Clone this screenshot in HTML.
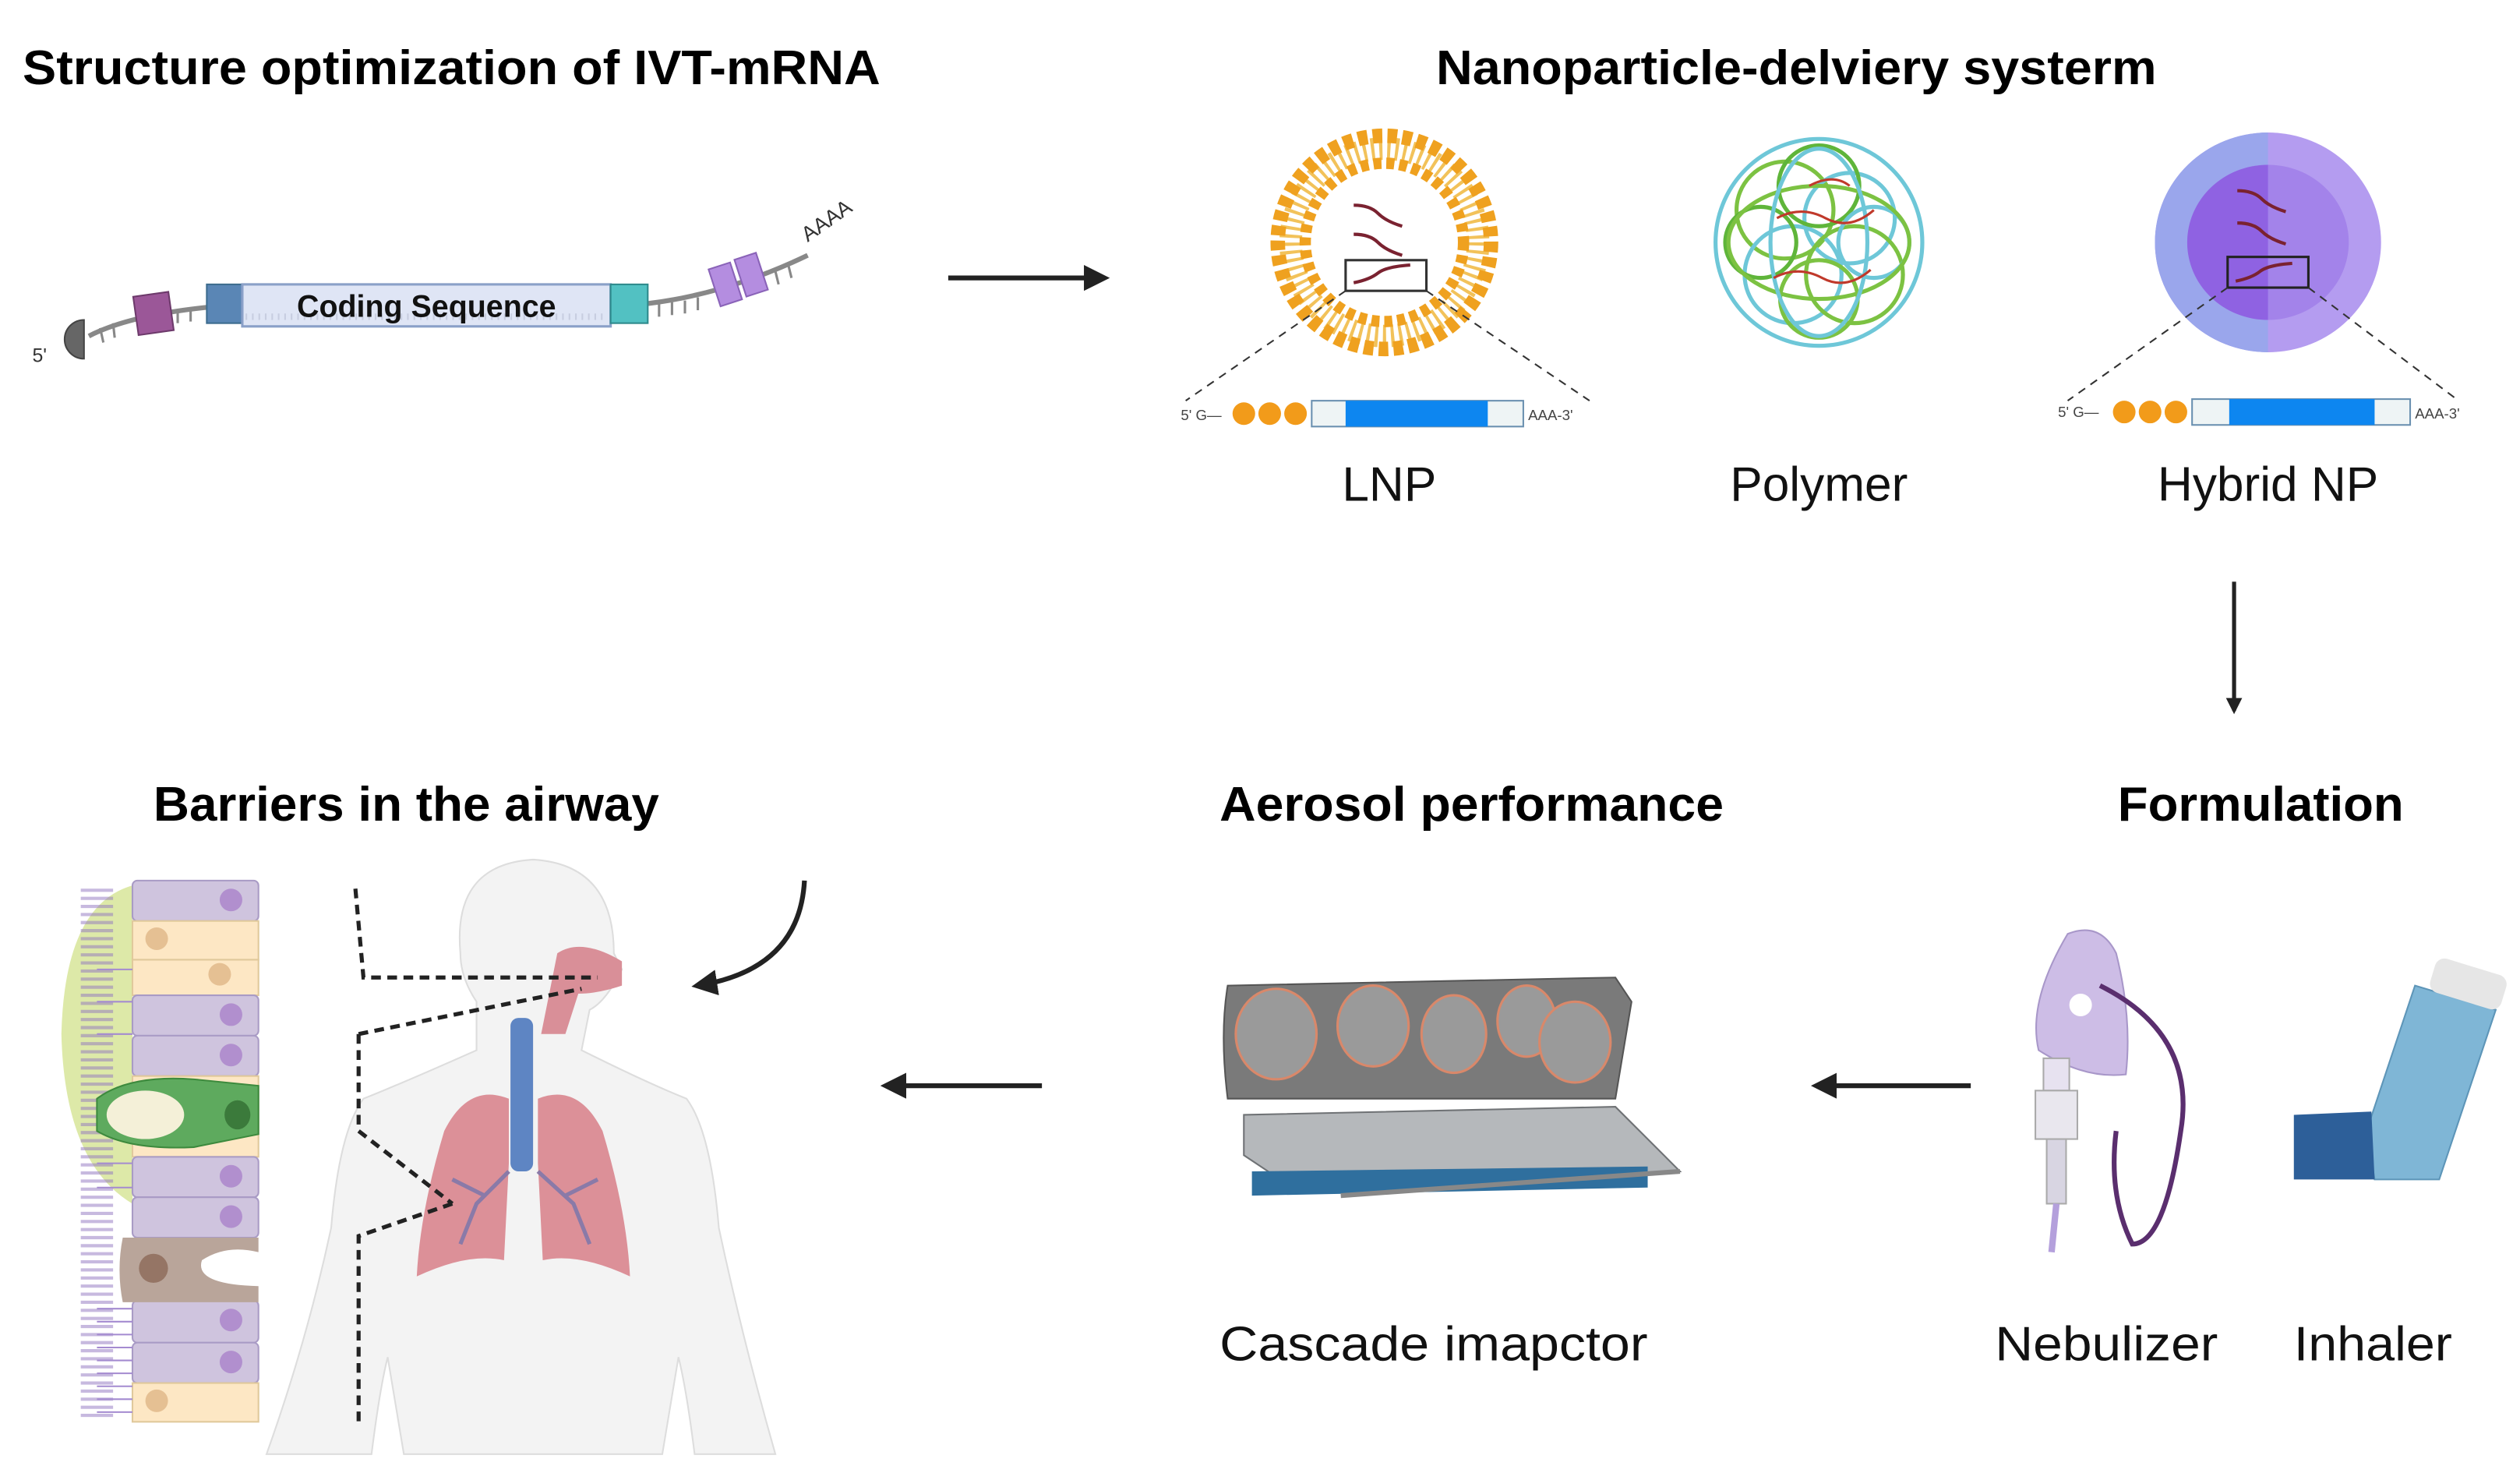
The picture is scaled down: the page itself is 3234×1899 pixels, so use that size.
<!DOCTYPE html>
<html><head><meta charset="utf-8"><style>
html,body{margin:0;padding:0;background:#fff;}
svg{display:block;}
text{font-family:"Liberation Sans",sans-serif;}
</style></head><body>
<svg width="3234" height="1899" viewBox="0 0 1560 916" xmlns="http://www.w3.org/2000/svg">
<defs>
<marker id="ah" markerWidth="10" markerHeight="10" refX="8" refY="5" orient="auto" markerUnits="userSpaceOnUse"><path d="M0,0 L10,5 L0,10 Z" fill="#222"/></marker>
<marker id="ah2" markerWidth="16" markerHeight="16" refX="12" refY="8" orient="auto" markerUnits="userSpaceOnUse"><path d="M0,0 L16,8 L0,16 Z" fill="#222"/></marker>
</defs>
<rect width="1560" height="916" fill="#fff"/>
<!-- Titles -->
<text x="14" y="52" font-size="30" font-weight="bold" textLength="531" lengthAdjust="spacingAndGlyphs">Structure optimization of IVT-mRNA</text>
<text x="889" y="52" font-size="30" font-weight="bold" textLength="446" lengthAdjust="spacingAndGlyphs">Nanoparticle-delviery systerm</text>
<text x="95" y="508" font-size="30" font-weight="bold" textLength="313" lengthAdjust="spacingAndGlyphs">Barriers in the airway</text>
<text x="755" y="508" font-size="30" font-weight="bold" textLength="312" lengthAdjust="spacingAndGlyphs">Aerosol performance</text>
<text x="1311" y="508" font-size="30" font-weight="bold" textLength="177" lengthAdjust="spacingAndGlyphs">Formulation</text>

<!-- mRNA -->
<path d="M55,208 Q80,195 130,190 L400,188 Q450,182 500,158" fill="none" stroke="#888" stroke-width="3"/>
<g stroke="#888" stroke-width="1.5">
<line x1="62" y1="203" x2="64" y2="212"/><line x1="70" y1="200" x2="71" y2="209"/><line x1="110" y1="192" x2="110" y2="200"/><line x1="118" y1="191" x2="118" y2="199"/>
<line x1="408" y1="188" x2="408" y2="196"/><line x1="416" y1="187" x2="416" y2="195"/><line x1="424" y1="186" x2="424" y2="194"/><line x1="432" y1="184" x2="432" y2="192"/><line x1="480" y1="168" x2="482" y2="176"/><line x1="488" y1="164" x2="490" y2="172"/>
</g>
<path d="M52,198 A12,12 0 0 0 52,222 Z" fill="#666" stroke="#444"/>
<text x="20" y="224" font-size="12" fill="#333">5'</text>
<rect x="84" y="182" width="22" height="24" fill="#9b5798" stroke="#6d3a6b" transform="rotate(-8 95 194)"/>
<rect x="128" y="176" width="22" height="24" fill="#5a86b5" stroke="#3d6c8e"/>
<rect x="150" y="176" width="228" height="26" fill="#dfe5f5" stroke="#8aa0c8" stroke-width="1.5"/>
<line x1="152" y1="196" x2="376" y2="196" stroke="#c7cde0" stroke-width="4" stroke-dasharray="1 3"/>
<text x="264" y="196" font-size="19" font-weight="bold" text-anchor="middle" fill="#111">Coding Sequence</text>
<rect x="378" y="176" width="23" height="24" fill="#52c1c2" stroke="#2e8a8c"/>
<rect x="442" y="164" width="14" height="24" fill="#b48de0" stroke="#8a63b8" transform="rotate(-18 449 176)"/>
<rect x="458" y="158" width="14" height="24" fill="#b48de0" stroke="#8a63b8" transform="rotate(-18 465 170)"/>
<text x="500" y="150" font-size="13" fill="#333" transform="rotate(-35 500 150)">AAAA</text>

<line x1="587" y1="172" x2="683" y2="172" stroke="#222" stroke-width="3" marker-end="url(#ah2)"/>

<!-- LNP -->
<g>
<circle cx="857" cy="150" r="58" fill="none" stroke="#f2c25a" stroke-width="14" stroke-dasharray="2 3"/>
<circle cx="857" cy="150" r="66" fill="none" stroke="#efa11f" stroke-width="9" stroke-dasharray="6 3.2"/>
<circle cx="857" cy="150" r="49" fill="none" stroke="#efa11f" stroke-width="7" stroke-dasharray="5 3"/>
<path d="M838,127 q10,0 15,5 t15,8" fill="none" stroke="#7a2230" stroke-width="2"/>
<path d="M838,145 q10,0 15,5 t15,8" fill="none" stroke="#7a2230" stroke-width="2"/>
<rect x="833" y="161" width="50" height="19" fill="#fff" fill-opacity="0.5" stroke="#333" stroke-width="1.5"/>
<path d="M838,175 q10,-2 15,-6 t20,-5" fill="none" stroke="#7a2230" stroke-width="2"/>
<line x1="833" y1="180" x2="734" y2="248" stroke="#333" stroke-dasharray="5 4"/>
<line x1="883" y1="180" x2="984" y2="248" stroke="#333" stroke-dasharray="5 4"/>
<text x="731" y="260" font-size="9" fill="#444">5' G—</text>
<circle cx="770" cy="256" r="7" fill="#f29b1a"/><circle cx="786" cy="256" r="7" fill="#f29b1a"/><circle cx="802" cy="256" r="7" fill="#f29b1a"/>
<rect x="812" y="248" width="131" height="16" fill="#eef4f5" stroke="#6a90b0"/>
<rect x="833" y="248" width="88" height="16" fill="#0d86f0"/>
<text x="946" y="260" font-size="9" fill="#444">AAA-3'</text>
</g>
<text x="860" y="310" font-size="30" text-anchor="middle" fill="#111">LNP</text>

<!-- Polymer -->
<g fill="none" stroke-width="2.5">
<circle cx="1126" cy="150" r="64" stroke="#6ec7d8"/>
<circle cx="1105" cy="130" r="30" stroke="#7cc242"/>
<circle cx="1145" cy="135" r="28" stroke="#6ec7d8"/>
<circle cx="1110" cy="170" r="30" stroke="#6ec7d8"/>
<circle cx="1148" cy="170" r="30" stroke="#7cc242"/>
<circle cx="1126" cy="115" r="25" stroke="#5fb53a"/>
<circle cx="1126" cy="185" r="24" stroke="#7cc242"/>
<circle cx="1090" cy="150" r="22" stroke="#5fb53a"/>
<circle cx="1160" cy="150" r="22" stroke="#6ec7d8"/>
<ellipse cx="1126" cy="150" rx="56" ry="35" stroke="#7cc242"/>
<ellipse cx="1126" cy="150" rx="30" ry="58" stroke="#6ec7d8"/>
<path d="M1100,135 q15,-8 30,0 t30,-5" stroke="#c0392b" stroke-width="1.5"/>
<path d="M1098,172 q15,-8 30,0 t30,-5" stroke="#c0392b" stroke-width="1.5"/>
<path d="M1120,115 q15,-8 25,0" stroke="#c0392b" stroke-width="1.5"/>
</g>
<text x="1126" y="310" font-size="30" text-anchor="middle" fill="#111">Polymer</text>

<!-- Hybrid NP -->
<g>
<ellipse cx="1404" cy="150" rx="70" ry="68" fill="#b49cf0"/>
<path d="M1404,82 A70,68 0 0 0 1404,218 Z" fill="#9aa6ec"/>
<ellipse cx="1404" cy="150" rx="50" ry="48" fill="#a383ea"/>
<path d="M1404,102 A50,48 0 0 0 1404,198 Z" fill="#8f62e2"/>
<path d="M1385,118 q10,0 15,5 t15,8" fill="none" stroke="#7a2230" stroke-width="2"/>
<path d="M1385,138 q10,0 15,5 t15,8" fill="none" stroke="#7a2230" stroke-width="2"/>
<rect x="1379" y="159" width="50" height="19" fill="none" stroke="#222" stroke-width="1.5"/>
<path d="M1384,174 q10,-2 15,-6 t20,-5" fill="none" stroke="#7a2230" stroke-width="2"/>
<line x1="1379" y1="178" x2="1280" y2="248" stroke="#333" stroke-dasharray="5 4"/>
<line x1="1429" y1="178" x2="1522" y2="248" stroke="#333" stroke-dasharray="5 4"/>
<text x="1274" y="258" font-size="9" fill="#444">5' G—</text>
<circle cx="1315" cy="255" r="7" fill="#f29b1a"/><circle cx="1331" cy="255" r="7" fill="#f29b1a"/><circle cx="1347" cy="255" r="7" fill="#f29b1a"/>
<rect x="1357" y="247" width="135" height="16" fill="#eef4f5" stroke="#6a90b0"/>
<rect x="1380" y="247" width="90" height="16" fill="#0d86f0"/>
<text x="1495" y="259" font-size="9" fill="#444">AAA-3'</text>
</g>
<text x="1404" y="310" font-size="30" text-anchor="middle" fill="#111">Hybrid NP</text>

<line x1="1383" y1="360" x2="1383" y2="440" stroke="#222" stroke-width="2.5" marker-end="url(#ah)"/>
<line x1="1220" y1="672" x2="1125" y2="672" stroke="#222" stroke-width="3" marker-end="url(#ah2)"/>
<line x1="645" y1="672" x2="549" y2="672" stroke="#222" stroke-width="3" marker-end="url(#ah2)"/>
<path d="M498,545 Q495,600 432,610" fill="none" stroke="#222" stroke-width="3" marker-end="url(#ah2)"/>

<!-- Airway cells -->
<path d="M82,548 Q40,560 38,640 Q40,720 82,745 Z" fill="#dde9a8"/>
<g stroke="#8f74c0" stroke-width="1"><path d="M60,550 v330" stroke-dasharray="2 3" stroke-width="20" stroke-opacity="0.5" fill="none"/></g>
<g stroke="#a99bc5" stroke-width="1">
<rect x="82" y="545" width="78" height="25" rx="3" fill="#cfc4de"/>
<rect x="82" y="570" width="78" height="24" fill="#fde7c4" stroke="#e0c99b"/>
<rect x="82" y="594" width="78" height="22" fill="#fde7c4" stroke="#e0c99b"/>
<rect x="82" y="616" width="78" height="25" rx="3" fill="#cfc4de"/>
<rect x="82" y="641" width="78" height="25" rx="3" fill="#cfc4de"/>
<rect x="82" y="666" width="78" height="50" fill="#fde7c4" stroke="#e0c99b"/>
<rect x="82" y="716" width="78" height="25" rx="3" fill="#cfc4de"/>
<rect x="82" y="741" width="78" height="25" rx="3" fill="#cfc4de"/>
<rect x="82" y="805" width="78" height="26" rx="3" fill="#cfc4de"/>
<rect x="82" y="831" width="78" height="25" rx="3" fill="#cfc4de"/>
<rect x="82" y="856" width="78" height="24" fill="#fde7c4" stroke="#e0c99b"/>
</g>
<g fill="#b18fce"><circle cx="143" cy="557" r="7"/><circle cx="143" cy="628" r="7"/><circle cx="143" cy="653" r="7"/><circle cx="143" cy="728" r="7"/><circle cx="143" cy="753" r="7"/><circle cx="143" cy="817" r="7"/><circle cx="143" cy="843" r="7"/></g>
<g fill="#e5c093"><circle cx="97" cy="581" r="7"/><circle cx="136" cy="603" r="7"/><circle cx="97" cy="867" r="7"/></g>
<path d="M60,680 Q80,665 120,668 L160,672 L160,702 L120,710 Q80,712 60,700 Z" fill="#5eaa5e" stroke="#3d8a3d"/>
<ellipse cx="90" cy="690" rx="24" ry="15" fill="#f4f0d8"/>
<ellipse cx="147" cy="690" rx="8" ry="9" fill="#3b7a3b"/>
<path d="M76,766 L160,766 L160,775 Q140,770 125,780 Q120,795 160,796 L160,806 L76,806 Q72,786 76,766 Z" fill="#b9a59a"/>
<circle cx="95" cy="785" r="9" fill="#957565"/>
<g stroke="#a48bd0" stroke-width="1"><path d="M60,810 h22 M60,818 h22 M60,826 h22 M60,834 h22 M60,842 h22 M60,850 h22 M60,858 h22 M60,866 h22 M60,874 h22 M60,600 h22 M60,620 h22 M60,640 h22 M60,720 h22 M60,735 h22"/></g>

<!-- Human -->
<path d="M285,590 Q280,535 330,532 Q380,535 380,590 L385,600 Q375,620 365,625 L360,650 Q400,670 425,680 Q440,700 445,760 Q460,830 480,900 L430,900 Q425,860 420,840 L410,900 L250,900 L240,840 Q235,860 230,900 L165,900 Q190,830 205,760 Q210,700 225,680 Q250,670 295,650 L295,620 Q285,605 285,590 Z" fill="#f3f3f3" stroke="#ddd"/>
<path d="M345,590 Q360,580 385,595 L385,610 Q370,615 358,615 L350,640 L335,640 L340,615 Z" fill="#d98f98"/>
<rect x="316" y="630" width="14" height="95" rx="5" fill="#5e85c3"/>
<path d="M315,680 Q290,670 275,700 Q260,750 258,790 Q290,775 312,780 L315,720 Z" fill="#d9858e" opacity="0.9"/>
<path d="M333,680 Q358,670 373,700 Q388,750 390,790 Q358,775 336,780 L333,720 Z" fill="#d9858e" opacity="0.9"/>
<path d="M315,725 L295,745 L285,770 M300,740 L280,730 M333,725 L355,745 L365,770 M350,740 L370,730" stroke="#8a7aa8" stroke-width="2.5" fill="none"/>
<path d="M220,550 L225,605 L370,605 M222,640 L360,612 M222,640 L222,700 L280,745 M280,745 L222,765 L222,880" fill="none" stroke="#222" stroke-width="2.5" stroke-dasharray="6 4"/>

<!-- Cascade impactor -->
<path d="M760,610 L1000,605 L1010,620 L1000,680 L760,680 Q755,640 760,610 Z" fill="#7a7a7a" stroke="#555"/>
<g fill="#9a9a9a" stroke="#d9886a" stroke-width="1.5">
<ellipse cx="790" cy="640" rx="25" ry="28"/><ellipse cx="850" cy="635" rx="22" ry="25"/><ellipse cx="900" cy="640" rx="20" ry="24"/><ellipse cx="945" cy="632" rx="18" ry="22"/><ellipse cx="975" cy="645" rx="22" ry="25"/>
</g>
<path d="M770,690 L1000,685 L1030,715 L1040,725 L800,735 L770,715 Z" fill="#b5b8bb" stroke="#6f7275"/>
<path d="M775,725 L1020,722 L1020,735 L775,740 Z" fill="#2f6f9e"/>
<line x1="830" y1="740" x2="1040" y2="725" stroke="#888" stroke-width="3"/>
<text x="755" y="842" font-size="30" fill="#111" textLength="265" lengthAdjust="spacingAndGlyphs">Cascade imapctor</text>

<!-- Nebulizer -->
<path d="M1280,578 Q1300,570 1310,590 Q1320,630 1316,665 Q1290,668 1262,650 Q1255,620 1280,578 Z" fill="#cdbde6" stroke="#a897c9"/>
<circle cx="1288" cy="622" r="7" fill="#fff"/>
<path d="M1300,610 Q1360,640 1350,700 Q1340,770 1320,770 Q1305,740 1310,700" fill="none" stroke="#5a2e6e" stroke-width="3"/>
<rect x="1265" y="655" width="16" height="20" fill="#e7e2f0" stroke="#aaa"/>
<rect x="1260" y="675" width="26" height="30" fill="#e9e7ee" stroke="#aaa"/>
<rect x="1267" y="705" width="12" height="40" fill="#d8d5e2" stroke="#aaa"/>
<path d="M1273,745 L1270,775" stroke="#b4a0dc" stroke-width="4"/>
<text x="1235" y="842" font-size="30" fill="#111" textLength="138" lengthAdjust="spacingAndGlyphs">Nebulizer</text>

<!-- Inhaler -->
<path d="M1495,610 L1545,625 L1510,730 L1470,730 L1465,700 Z" fill="#7fb6d6" stroke="#5d95b8"/>
<rect x="1505" y="598" width="46" height="22" rx="6" fill="#e6e6e6" transform="rotate(17 1528 609)"/>
<path d="M1420,690 L1468,688 L1470,730 L1420,730 Z" fill="#2d5f99"/>
<text x="1420" y="842" font-size="30" fill="#111" textLength="98" lengthAdjust="spacingAndGlyphs">Inhaler</text>
</svg>
</body></html>
